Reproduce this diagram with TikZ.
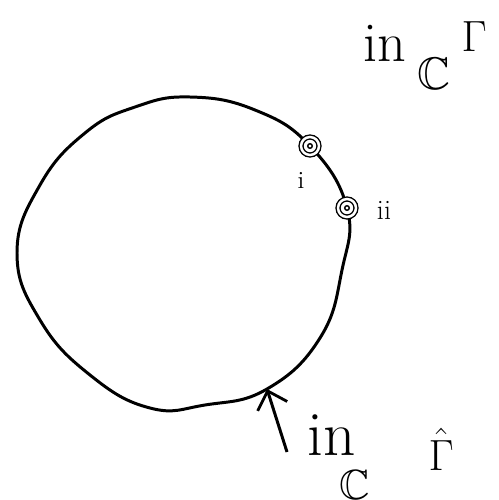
\documentclass[tikz,border=0pt]{standalone}
\usepackage{amsmath,amssymb}
\usetikzlibrary{arrows.meta,calc,positioning}

\begin{document}
\begin{tikzpicture}[x=0.02cm,y=-0.02cm,>={Straight Barb[length=0.32cm,width=0.62cm,line width=1.6pt]},line width=1.7pt,
  bdpt/.style={circle,draw,fill=white,double,double distance=1.4pt,line width=0.8pt,minimum size=0.36cm,inner sep=0pt,
    path picture={\draw[line width=0.8pt] (path picture bounding box.center) circle (1.3pt);}},
  hand/.style={inner sep=0pt,anchor=base west}]
  \useasboundingbox (0,0) rectangle (499,500);

  % points on the boundary and the arrow's end
  \coordinate (pI) at (310,146);
  \coordinate (pII) at (347,208);
  \coordinate (hit) at (267,389);
  \coordinate (tail) at (287,452);

  % the closed curve
  \draw plot[smooth cycle,tension=0.75] coordinates {(190,97) (255,110) (pI) (pII) (342,270)
    (320,338) (hit) (205,405) (150,408) (90,375) (40,320) (17,253) (40,185) (85,133) (135,107)};

  \node[bdpt] (I) at (pI) {};
  \node[bdpt] (II) at (pII) {};
  \node[font=\fontsize{14}{16}\selectfont] (labI) at (301,180) {i};
  \node[font=\fontsize{16}{18}\selectfont] (labII) at (384,210) {ii};

  % label of the curve
  \node[hand,font=\fontsize{32}{36}\selectfont] (in1) at (362,62) {in};
  \node[hand,font=\fontsize{26}{28}\selectfont] (C1) at (416,90) {$\mathbb{C}$};
  \node[hand,font=\fontsize{23}{26}\selectfont] (G1) at (460,52) {$\Gamma$};

  % label of the inner curve
  \draw[->] (tail) -- (hit);
  \node[hand,font=\fontsize{36}{40}\selectfont] (in2) at (306,455) {in};
  \node[hand,font=\fontsize{24}{26}\selectfont] (C2) at (338,499) {$\mathbb{C}$};
  \node[hand,font=\fontsize{28}{30}\selectfont] (G2) at (427,470) {$\hat{\Gamma}$};
\end{tikzpicture}
\end{document}
